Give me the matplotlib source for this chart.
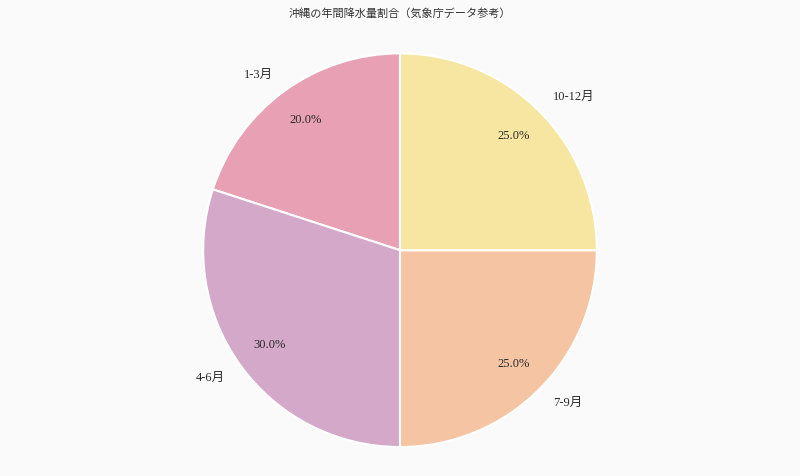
import matplotlib.pyplot as plt

# データ（気象庁データ参考）
labels = ['1-3月', '4-6月', '7-9月', '10-12月']
values = [20, 30, 25, 25]
colors = ['#E8A0B4', '#D4A8C8', '#F5C5A3', '#F7E6A1']

fonts = ['Liberation Serif', 'Noto Sans CJK JP', 'DejaVu Sans']
plt.rcParams['font.family'] = fonts

fig = plt.figure(figsize=(8, 4.76), dpi=100, facecolor='#FAFAFA')
ax = fig.add_axes([183.5 / 800, 9.3 / 476, 433 / 800, 433 / 476])
ax.set_facecolor('#FAFAFA')

wedges, texts, autotexts = ax.pie(
    values, labels=labels, colors=colors, startangle=90,
    autopct='%1.1f%%', pctdistance=0.82, labeldistance=1.1,
    wedgeprops={'edgecolor': 'white', 'linewidth': 1.5},
    textprops={'fontsize': 9, 'color': '#2a2a2a'})

ax.set_xlim(-1.1, 1.1)
ax.set_ylim(-1.1, 1.1)
ax.set_aspect('equal')
ax.axis('off')

fig.text(0.5, 1 - 14 / 476, '沖縄の年間降水量割合（気象庁データ参考）',
         ha='center', va='center', fontsize=8, color='#333333')

fig.savefig('out.png', dpi=100, facecolor=fig.get_facecolor())
